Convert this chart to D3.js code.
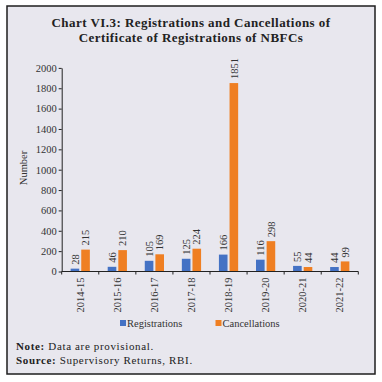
<!DOCTYPE html>
<html>
<head>
<meta charset="utf-8">
<script src="https://cdn.jsdelivr.net/npm/d3@7"></script>
<style>
  html, body { margin: 0; padding: 0; background: #ffffff; }
  svg { display: block; }
  text { font-family: "Liberation Serif", "Times New Roman", serif; fill: #222; }
</style>
</head>
<body>
<svg id="chart" width="382" height="382"></svg>
<script>
const categories = ["2014-15", "2015-16", "2016-17", "2017-18", "2018-19", "2019-20", "2020-21", "2021-22"];
const seriesNames = ["Registrations", "Cancellations"];
const registrations = [28, 46, 105, 125, 166, 116, 55, 44];
const cancellations = [215, 210, 169, 224, 1851, 298, 44, 99];
const yTicks = [0, 200, 400, 600, 800, 1000, 1200, 1400, 1600, 1800, 2000];
const titleLines = ["Chart VI.3: Registrations and Cancellations of", "Certificate of Registrations of NBFCs"];
const colors = ["#4472c4", "#ef7f22"];

const svg = d3.select("#chart");

// panel
svg.append("rect").attr("x", 7).attr("y", 6).attr("width", 368).attr("height", 368)
  .attr("fill", "#e8e7ee").attr("stroke", "#1e1e1e").attr("stroke-width", 1.5);

// title
svg.selectAll("text.title").data(titleLines).enter().append("text")
  .attr("class", "title")
  .attr("x", 191).attr("y", (d, i) => 27 + i * 15)
  .attr("text-anchor", "middle")
  .style("font-weight", "bold").style("font-size", "13px").style("letter-spacing", "0.45px")
  .text(d => d);

const left = 61.7, right = 358.3, y0 = 271.5;
const x0 = d3.scaleBand().domain(categories).range([left, right]).padding(0);
const x1 = d3.scaleBand().domain(seriesNames).range([0, x0.bandwidth()])
  .paddingInner(0.19).paddingOuter(0.84);
const y = d3.scaleLinear().domain([0, 2000]).range([y0, y0 - 2000 * 0.1018]);

const data = categories.map((c, i) => ({ cat: c, vals: [registrations[i], cancellations[i]] }));

// bars
const g = svg.append("g");
data.forEach(d => {
  d.vals.forEach((v, j) => {
    const bx = x0(d.cat) + x1(seriesNames[j]);
    g.append("rect")
      .attr("x", bx).attr("width", x1.bandwidth())
      .attr("y", y(v)).attr("height", y(0) - y(v))
      .attr("fill", colors[j]);
    const cx = bx + x1.bandwidth() / 2;
    const ty = y(v) - 4;
    g.append("text")
      .attr("transform", `translate(${cx},${ty}) rotate(-90)`)
      .attr("dy", "0.35em")
      .attr("text-anchor", "start")
      .style("font-size", "10.5px").style("fill", "#333")
      .text(v);
  });
});

// y axis
const yAxis = d3.axisLeft(y).tickValues(yTicks).tickFormat(d3.format("d"))
  .tickSize(3).tickSizeOuter(0).tickPadding(2);
const ya = svg.append("g").attr("transform", `translate(${left},0)`).call(yAxis);
ya.select(".domain").attr("stroke", "#222");
ya.selectAll(".tick line").attr("stroke", "#222");
ya.selectAll(".tick text").style("font-family", "Liberation Serif, serif").style("font-size", "10.5px").style("fill", "#333");

// x axis
const xa = svg.append("g").attr("transform", `translate(0,${y0})`);
xa.append("line").attr("x1", left).attr("x2", right).attr("stroke", "#222");
const bounds = categories.map(c => x0(c)).concat([right]);
xa.selectAll("line.tk").data(bounds).enter().append("line").attr("class", "tk")
  .attr("x1", d => d).attr("x2", d => d).attr("y1", 0).attr("y2", 3).attr("stroke", "#222");
xa.selectAll("text.xl").data(categories).enter().append("text").attr("class", "xl")
  .attr("transform", d => `translate(${x0(d) + x0.bandwidth() / 2},6) rotate(-90)`)
  .attr("dy", "0.35em").attr("text-anchor", "end")
  .style("font-size", "10.5px").style("fill", "#333")
  .text(d => d);

// y label
svg.append("text").attr("transform", "translate(23,168) rotate(-90)")
  .attr("dy", "0.35em").attr("text-anchor", "middle")
  .style("font-size", "10.5px").style("fill", "#333").text("Number");

// legend
const legX = [120, 215.5];
seriesNames.forEach((s, i) => {
  svg.append("rect").attr("x", legX[i]).attr("y", 320).attr("width", 6).attr("height", 6).attr("fill", colors[i]);
  svg.append("text").attr("x", legX[i] + 7).attr("y", 326.5)
    .style("font-size", "10.5px").style("fill", "#333").text(s);
});

// notes
const n1 = svg.append("text").attr("x", 16).attr("y", 350).style("font-size", "11px").style("letter-spacing", "0.65px");
n1.append("tspan").style("font-weight", "bold").text("Note:");
n1.append("tspan").text(" Data are provisional.");
const n2 = svg.append("text").attr("x", 16).attr("y", 363.5).style("font-size", "11px").style("letter-spacing", "0.65px");
n2.append("tspan").style("font-weight", "bold").text("Source:");
n2.append("tspan").text(" Supervisory Returns, RBI.");
</script>
</body>
</html>
